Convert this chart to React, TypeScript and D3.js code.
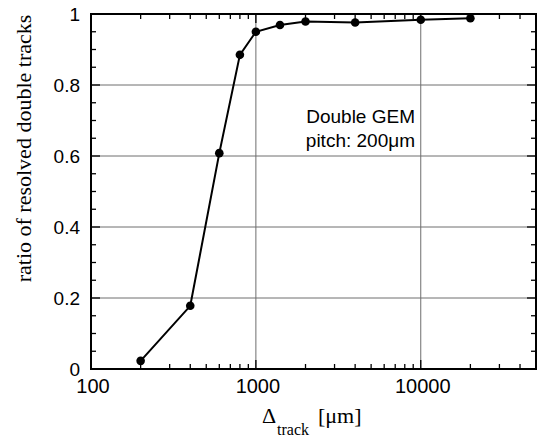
import React from "react";
import * as d3 from "d3";

const trackSep = [200, 400, 600, 800, 1000, 1400, 2000, 4000, 10000, 20000];
const ratio = [0.023, 0.178, 0.608, 0.885, 0.95, 0.969, 0.979, 0.976, 0.984, 0.988];
const xTickValues = [100, 1000, 10000];
const xTickLabels = ["100", "1000", "10000"];
const yTickValues = [0, 0.2, 0.4, 0.6, 0.8, 1];
const yTickLabels = ["0", "0.2", "0.4", "0.6", "0.8", "1"];
const annotation = ["Double GEM", "pitch: 200μm"];
const yTitle = "ratio of resolved double tracks";

const W = 538;
const H = 438;
const L = 91;
const R = 536;
const T = 14;
const B = 369;

const SANS = "'Liberation Sans', Arial, Helvetica, sans-serif";
const SERIF = "'Liberation Serif', 'Times New Roman', Times, serif";

export default function App() {
  const x = d3.scaleLog().domain([100, 50000]).range([L, R]);
  const y = d3.scaleLinear().domain([0, 1]).range([B, T]);

  const minorX: number[] = [];
  [100, 1000, 10000].forEach((d) => {
    for (let k = 2; k <= 9; k++) {
      const v = d * k;
      if (v < 50000) minorX.push(v);
    }
  });
  const minorY = d3.range(0, 21).map((i) => i * 0.05).filter((v) => Math.round(v * 100) % 20 !== 0);

  const pts = trackSep.map((v, i) => [v, ratio[i]] as [number, number]);
  const line = d3
    .line<[number, number]>()
    .x((d) => x(d[0]))
    .y((d) => y(d[1]));

  const major = 9;
  const minor = 5;

  return (
    <svg
      width={W}
      height={H}
      style={{ position: "absolute", left: 0, top: 0, background: "#fff" }}
    >
      <rect x={0} y={0} width={W} height={H} fill="#fff" />
      {/* grid */}
      {yTickValues
        .filter((v) => v > 0 && v < 1)
        .map((v) => (
          <line key={"gy" + v} x1={L} x2={R} y1={y(v)} y2={y(v)} stroke="#6e6e6e" strokeWidth={1} />
        ))}
      {xTickValues
        .filter((v) => v > 100)
        .map((v) => (
          <line key={"gx" + v} x1={x(v)} x2={x(v)} y1={T} y2={B} stroke="#6e6e6e" strokeWidth={1} />
        ))}
      {/* minor ticks */}
      {minorX.map((v) => (
        <g key={"mx" + v}>
          <line x1={x(v)} x2={x(v)} y1={B} y2={B - minor} stroke="#000" strokeWidth={1.3} />
          <line x1={x(v)} x2={x(v)} y1={T} y2={T + minor} stroke="#000" strokeWidth={1.3} />
        </g>
      ))}
      {xTickValues.map((v) => (
        <g key={"Mx" + v}>
          <line x1={x(v)} x2={x(v)} y1={B} y2={B - major} stroke="#000" strokeWidth={1.3} />
          <line x1={x(v)} x2={x(v)} y1={T} y2={T + major} stroke="#000" strokeWidth={1.3} />
        </g>
      ))}
      {minorY.map((v) => (
        <g key={"my" + v}>
          <line x1={L} x2={L + minor} y1={y(v)} y2={y(v)} stroke="#000" strokeWidth={1.3} />
          <line x1={R} x2={R - minor} y1={y(v)} y2={y(v)} stroke="#000" strokeWidth={1.3} />
        </g>
      ))}
      {yTickValues.map((v) => (
        <g key={"My" + v}>
          <line x1={L} x2={L + major} y1={y(v)} y2={y(v)} stroke="#000" strokeWidth={1.3} />
          <line x1={R} x2={R - major} y1={y(v)} y2={y(v)} stroke="#000" strokeWidth={1.3} />
        </g>
      ))}
      {/* frame */}
      <rect x={L} y={T} width={R - L} height={B - T} fill="none" stroke="#000" strokeWidth={2} />
      {/* data */}
      <path d={line(pts) || ""} fill="none" stroke="#000" strokeWidth={2} />
      {pts.map((p, i) => (
        <circle key={"p" + i} cx={x(p[0])} cy={y(p[1])} r={4.3} fill="#000" />
      ))}
      {/* tick labels */}
      {yTickValues.map((v, i) => (
        <text
          key={"yl" + v}
          x={L - 11}
          y={y(v)}
          dy="0.36em"
          textAnchor="end"
          fontFamily={SANS}
          fontSize={19}
          fill="#000"
        >
          {yTickLabels[i]}
        </text>
      ))}
      {xTickValues.map((v, i) => (
        <text
          key={"xl" + v}
          x={x(v) + 2}
          y={393}
          textAnchor="middle"
          fontFamily={SANS}
          fontSize={20}
          fill="#000"
        >
          {xTickLabels[i]}
        </text>
      ))}
      {/* annotation */}
      {annotation.map((s, i) => (
        <text
          key={"an" + i}
          x={415}
          y={123 + i * 24}
          textAnchor="end"
          fontFamily={SANS}
          fontSize={19}
          fill="#000"
        >
          {s}
        </text>
      ))}
      {/* axis titles */}
      <text
        transform={`translate(31,${(15 + 282) / 2}) rotate(-90)`}
        textAnchor="middle"
        fontFamily={SERIF}
        fontSize={22}
        fill="#000"
      >
        {yTitle}
      </text>
      <text x={262} y={423} fontFamily={SERIF} fontSize={22} fill="#000">
        Δ
      </text>
      <text x={277} y={435} fontFamily={SERIF} fontSize={16} fill="#000">
        track
      </text>
      <text x={318} y={423} fontFamily={SERIF} fontSize={22} fill="#000">
        [μm]
      </text>
    </svg>
  );
}
